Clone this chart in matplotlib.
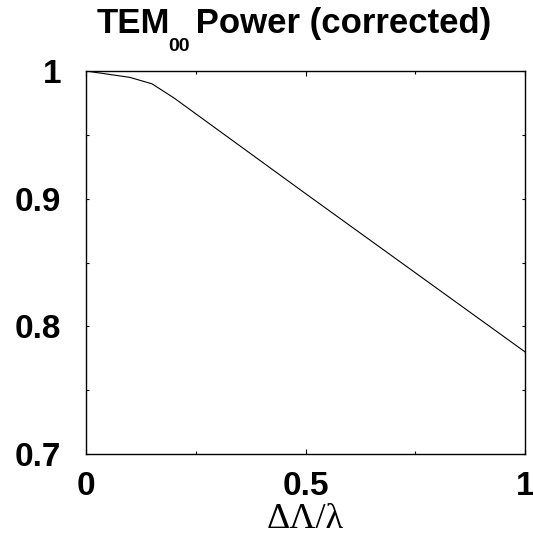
import matplotlib
matplotlib.use("Agg")
import matplotlib.pyplot as plt
from matplotlib.ticker import MultipleLocator

plt.rcParams['font.family'] = ['Liberation Sans', 'DejaVu Sans']

x_vals = [0.0, 0.1, 0.15, 0.2, 0.25, 0.5, 0.75, 1.0]
power = [1.0, 0.995, 0.990, 0.979, 0.9665, 0.904, 0.842, 0.780]
x_ticks = [0, 0.5, 1]
x_ticklabels = ['0', '0.5', '1']
y_ticks = [0.7, 0.8, 0.9, 1.0]
y_ticklabels = ['0.7', '0.8', '0.9', '1']
title_main = 'TEM'
title_sub = '00'
title_rest = ' Power (corrected)'
x_label = 'ΔΛ/λ'

W, H = 533, 535
fig = plt.figure(figsize=(W / 100, H / 100), dpi=100)
ax = fig.add_axes([86 / W, 1 - 454 / H, (525 - 86) / W, (454 - 71) / H])
ax.plot(x_vals, power, color='black', linewidth=0.8)
ax.set_xlim(0, 1)
ax.set_ylim(0.7, 1.0)
ax.set_xticks(x_ticks)
ax.set_xticklabels(x_ticklabels)
ax.set_yticks(y_ticks)
ax.set_yticklabels(y_ticklabels)
ax.xaxis.set_minor_locator(MultipleLocator(0.25))
ax.yaxis.set_minor_locator(MultipleLocator(0.05))
ax.tick_params(which='both', direction='in', top=True, right=True, width=0.8)
ax.tick_params(which='major', length=3.5, labelsize=24)
ax.tick_params(which='minor', length=2.5)
ax.tick_params(axis='x', which='major', pad=12)
ax.tick_params(axis='y', which='major', pad=18, length=2.5)
for lab in ax.get_xticklabels() + ax.get_yticklabels():
    lab.set_fontweight('bold')
for s in ax.spines.values():
    s.set_linewidth(1.0)

ax.set_xlabel(x_label, family=['Liberation Serif', 'DejaVu Serif'], fontsize=26, labelpad=1)

# composite title: TEM with lowered subscript 00
renderer = fig.canvas.get_renderer()
base_y = 1 - 33 / H
sub_y = 1 - 51 / H
t1 = fig.text(0, base_y, title_main, fontsize=25, fontweight='bold', va='baseline')
t2 = fig.text(0, sub_y, title_sub, fontsize=14, fontweight='bold', va='baseline')
t3 = fig.text(0, base_y, title_rest, fontsize=25, fontweight='bold', va='baseline')
w1 = t1.get_window_extent(renderer).width
w2 = t2.get_window_extent(renderer).width
w3 = t3.get_window_extent(renderer).width
total = w1 + w2 + w3 - 6
x0 = (80 + 508) / 2 - total / 2
t1.set_x(x0 / W)
t2.set_x((x0 + w1 - 2) / W)
t3.set_x((x0 + w1 + w2 - 6) / W)

fig.savefig('out.png', dpi=100)
